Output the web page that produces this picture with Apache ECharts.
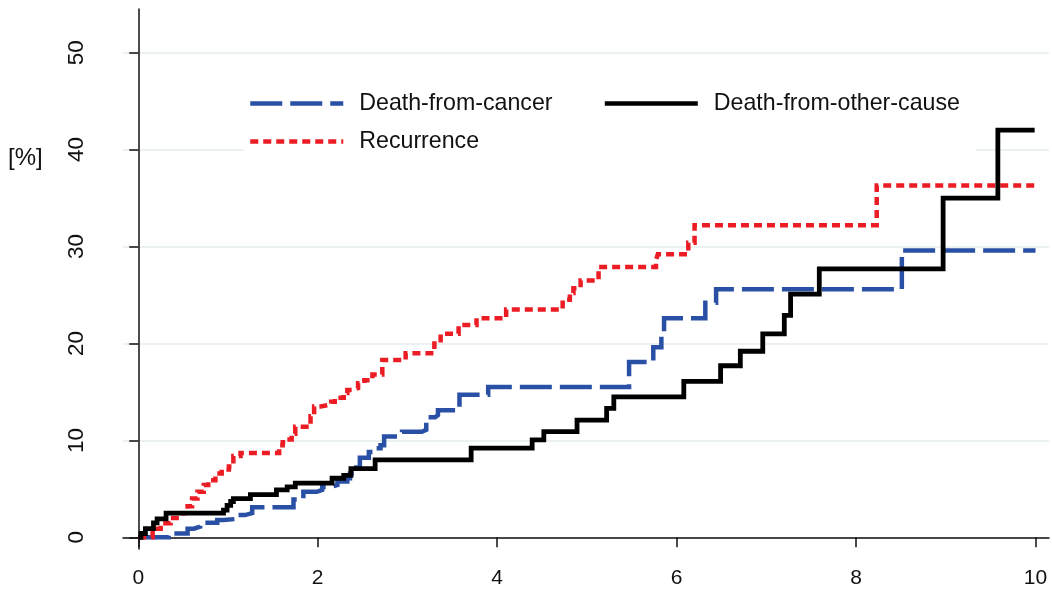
<!DOCTYPE html>
<html>
<head>
<meta charset="utf-8">
<script src="https://cdn.jsdelivr.net/npm/echarts@6/dist/echarts.min.js"></script>
<style>
  html, body { margin: 0; padding: 0; background: #fff; }
  #chart { width: 1052px; height: 592px; }
</style>
</head>
<body>
<div id="chart"></div>
<script>
// Cumulative incidence [%] by years of follow-up; each pair is [time, value from that time on]
const yearTicks = [0, 2, 4, 6, 8, 10];
const percentTicks = [0, 10, 20, 30, 40, 50];

const cancerDeath = [
  [0, 0], [0.34, 0.4], [0.55, 0.9], [0.62, 1.1], [0.69, 1.5], [0.88, 1.8], [0.95, 1.9],
  [1.10, 2.3], [1.19, 2.5], [1.27, 3.1], [1.73, 3.9], [1.84, 4.7], [1.99, 4.9], [2.05, 5.2],
  [2.14, 5.4], [2.22, 5.75], [2.33, 6.1], [2.36, 6.6], [2.43, 7.2], [2.47, 8.2], [2.57, 8.8],
  [2.62, 9.2], [2.70, 9.5], [2.74, 10.4], [2.90, 10.6], [2.94, 10.9], [3.16, 11.1], [3.21, 12.4],
  [3.31, 12.6], [3.34, 13.1], [3.58, 14.7], [3.90, 15.5], [5.47, 18.1], [5.74, 19.6], [5.83, 21.0],
  [5.86, 22.6], [6.32, 24.2], [6.44, 25.6], [8.51, 29.6], [10.0, 29.6]
];

const otherDeath = [
  [0, 0], [0.03, 0.4], [0.08, 0.9], [0.17, 1.5], [0.21, 1.9], [0.31, 2.5], [0.95, 2.8],
  [0.99, 3.3], [1.03, 3.7], [1.06, 4.0], [1.25, 4.4], [1.54, 4.9], [1.66, 5.2], [1.75, 5.6],
  [2.16, 6.1], [2.29, 6.4], [2.37, 7.1], [2.64, 8.0], [3.71, 9.2], [4.39, 10.05], [4.52, 10.9],
  [4.89, 12.1], [5.22, 13.3], [5.30, 14.5], [6.08, 16.1], [6.49, 17.7], [6.71, 19.2], [6.96, 21.0],
  [7.20, 22.9], [7.27, 25.1], [7.59, 27.7], [8.97, 35.0], [9.58, 42.0], [9.99, 42.0]
];

const recurrence = [
  [0, 0], [0.16, 0.9], [0.25, 1.45], [0.36, 2.0], [0.47, 2.5], [0.55, 3.2], [0.60, 4.0],
  [0.66, 4.7], [0.73, 5.4], [0.78, 5.9], [0.86, 6.6], [0.93, 7.0], [1.01, 7.3], [1.06, 8.4],
  [1.14, 8.7], [1.57, 9.5], [1.61, 9.8], [1.65, 10.1], [1.71, 10.7], [1.75, 11.4], [1.92, 12.5],
  [1.96, 13.5], [2.03, 13.7], [2.15, 14.0], [2.19, 14.4], [2.29, 14.9], [2.33, 15.2], [2.39, 15.4],
  [2.45, 15.9], [2.52, 16.2], [2.61, 16.8], [2.72, 18.3], [2.98, 19.0], [3.30, 20.0], [3.37, 21.0],
  [3.57, 21.9], [3.77, 22.6], [4.10, 23.5], [4.73, 24.5], [4.81, 25.2], [4.85, 25.7], [4.93, 26.5],
  [5.13, 27.9], [5.77, 28.6], [5.79, 29.2], [6.13, 30.4], [6.20, 32.2], [8.23, 36.3], [10.0, 36.3]
];

const seriesNames = ['Death-from-cancer', 'Death-from-other-cause', 'Recurrence'];
const seriesColors = ['#2a50a6', '#000000', '#ec1c24'];

const FONT = '"Liberation Sans", Arial, sans-serif';

const chart = echarts.init(document.getElementById('chart'), null, { renderer: 'canvas' });

const legendText = {
  fontFamily: FONT,
  fontSize: 23.2,
  color: '#111',
  padding: [0, 0, 0, 11]
};

// line-only legend keys: the marker that line legends add is made invisible
const legendBase = {
  left: 248,
  padding: 0,
  itemWidth: 93,
  itemHeight: 20,
  itemStyle: { opacity: 0, color: 'rgba(0,0,0,0)', borderWidth: 0 },
  lineStyle: { width: 4.5 },
  textStyle: legendText
};

chart.setOption({
  animation: false,
  backgroundColor: '#ffffff',
  textStyle: { fontFamily: FONT },
  title: {
    text: '[%]',
    left: 8,
    top: 146,
    padding: 0,
    textStyle: { fontFamily: FONT, fontSize: 24, fontWeight: 'normal', color: '#111' }
  },
  grid: { left: 123, right: 3, top: 9, bottom: 43, containLabel: false },
  graphic: [{
    type: 'rect',
    z: 1,
    shape: { x: 244, y: 86, width: 732, height: 67 },
    style: { fill: '#ffffff' },
    silent: true
  }],
  legend: [
    Object.assign({}, legendBase, {
      data: [seriesNames[0], seriesNames[1]],
      top: 92,
      itemGap: 50
    }),
    Object.assign({}, legendBase, {
      data: [seriesNames[2]],
      top: 130
    })
  ],
  xAxis: {
    type: 'value',
    min: -0.17,
    max: 10.15,
    axisLine: { show: true, lineStyle: { color: '#111', width: 1.5 } },
    axisTick: { show: true, length: 10, customValues: yearTicks, lineStyle: { color: '#111', width: 1.5 } },
    axisLabel: {
      customValues: yearTicks,
      margin: 19,
      fontFamily: FONT,
      fontSize: 21,
      color: '#111'
    },
    splitLine: { show: false }
  },
  yAxis: {
    type: 'value',
    min: -1.2,
    max: 54.5,
    axisLine: { show: true, lineStyle: { color: '#111', width: 1.5 } },
    axisTick: { show: true, length: 9, customValues: percentTicks, lineStyle: { color: '#111', width: 1.5 } },
    axisLabel: {
      customValues: percentTicks,
      rotate: 90,
      margin: 35,
      fontFamily: FONT,
      fontSize: 22.5,
      color: '#111'
    },
    splitLine: { show: true, lineStyle: { color: '#e4eded', width: 1.5 } }
  },
  series: [
    {
      name: seriesNames[0],
      type: 'line',
      step: 'end',
      data: cancerDeath,
      symbol: 'none',
      z: 3,
      lineStyle: { color: seriesColors[0], width: 4.5, type: [32, 8], cap: 'butt', join: 'miter' },
      itemStyle: { color: seriesColors[0] }
    },
    {
      name: seriesNames[1],
      type: 'line',
      step: 'end',
      data: otherDeath,
      symbol: 'none',
      z: 4,
      lineStyle: { color: seriesColors[1], width: 4.8, type: 'solid', join: 'miter' },
      itemStyle: { color: seriesColors[1] }
    },
    {
      name: seriesNames[2],
      type: 'line',
      step: 'end',
      data: recurrence,
      symbol: 'none',
      z: 3,
      lineStyle: { color: seriesColors[2], width: 4.5, type: [8, 5], cap: 'butt', join: 'miter' },
      itemStyle: { color: seriesColors[2] }
    }
  ]
});
</script>
</body>
</html>
